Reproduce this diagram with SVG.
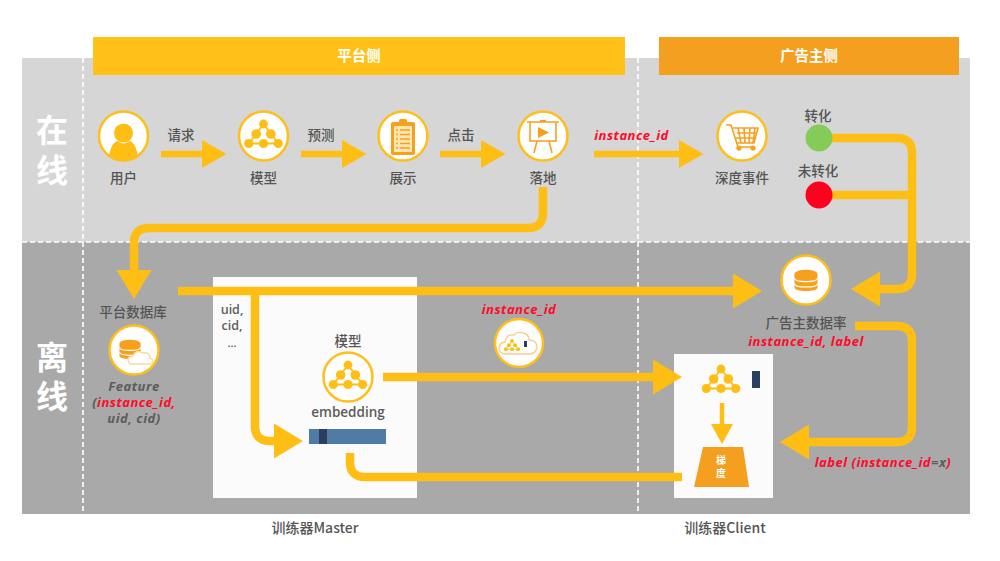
<svg xmlns="http://www.w3.org/2000/svg" xmlns:xlink="http://www.w3.org/1999/xlink" width="1000" height="561" viewBox="0 0 1000 561">
  <style>
    text { font-family: "Noto Sans CJK SC", "Open Sans", sans-serif; text-anchor: middle; }
    .lbl { font-size: 13.5px; font-weight: 500; fill: #555555; }
    .latin { font-family: "Open Sans", "Noto Sans CJK SC", sans-serif; }
    .ital { font-family: "Open Sans", "Noto Sans CJK SC", sans-serif; font-size: 13px; letter-spacing: 0.5px; font-style: italic; font-weight: 700; fill: #5c5c5c; }
    .red { fill: #ff0a2a; }
    .head { font-size: 14.5px; font-weight: 700; fill: #ffffff; }
    .side { font-family: "Liberation Sans", "Noto Sans CJK SC", sans-serif; font-size: 32px; font-weight: 700; fill: #ffffff; }
    .ring { fill: #ffffff; stroke: #ffbe1a; stroke-width: 2.5; }
    .flow { fill: none; stroke: #ffbe14; stroke-linejoin: round; }
    .thin { stroke-width: 6.5; }
    .thick { stroke-width: 8.5; }
    .dash { stroke: #ffffff; stroke-width: 1.6; stroke-dasharray: 5 3; fill: none; }
    .icol { fill: none; stroke: #f7a01d; stroke-width: 1.6; }
  </style>
  <defs>
    <marker id="headS" markerUnits="userSpaceOnUse" markerWidth="26" markerHeight="30" refX="0" refY="14" orient="auto">
      <polygon points="0,0 24.5,14 0,28" fill="#ffbe14"/>
    </marker>
    <marker id="headL" markerUnits="userSpaceOnUse" markerWidth="32" markerHeight="36" refX="0" refY="17.5" orient="auto">
      <polygon points="0,0 29,17.5 0,35" fill="#ffbe14"/>
    </marker>
    <marker id="headC" markerUnits="userSpaceOnUse" markerWidth="24" markerHeight="24" refX="0" refY="11" orient="auto">
      <polygon points="0,0 20,11 0,22" fill="#ffbe14"/>
    </marker>
    <!-- network of nodes used for the model -->
    <g id="net">
      <path d="M0,-12 L-14.7,7.5 H14.7 Z" fill="none" stroke="#ffbe14" stroke-width="1.8"/>
      <g fill="#ffbe14">
        <circle cx="0" cy="-12" r="4.4"/>
        <circle cx="-7.3" cy="-2" r="4.8"/>
        <circle cx="7.3" cy="-2" r="4.8"/>
        <circle cx="-14.7" cy="7.5" r="4.6"/>
        <circle cx="0" cy="7.5" r="4.6"/>
        <circle cx="14.7" cy="7.5" r="4.6"/>
      </g>
      <ellipse cx="0" cy="-2.5" rx="2.2" ry="4.5" fill="#ffffff"/>
      <path d="M-5,3 Q0,0 5,3" fill="none" stroke="#ffffff" stroke-width="1.2"/>
    </g>
    <!-- stacked database cylinder -->
    <g id="db">
      <path d="M-17,-9 V11 C-17,18 17,18 17,11 V-9 Z" fill="#f7a01d"/>
      <ellipse cx="0" cy="-9" rx="17" ry="6" fill="#f7a01d"/>
      <path d="M-17,-3 C-17,4 17,4 17,-3 M-17,5 C-17,12 17,12 17,5" fill="none" stroke="#ffffff" stroke-width="1.8"/>
    </g>
  </defs>

  <g id="bands">
    <rect x="22" y="58" width="948" height="184" fill="#d6d6d6"/>
    <rect x="22" y="242" width="948" height="272" fill="#a9a9a9"/>
    <path class="dash" d="M22,242 H970"/>
    <path class="dash" d="M83,58 V514"/>
    <path class="dash" d="M638,58 V514"/>
    <text class="side" x="52" y="142">在</text>
    <text class="side" x="52" y="182">线</text>
    <text class="side" x="52" y="369">离</text>
    <text class="side" x="52" y="408">线</text>
  </g>

  <g id="header-platform">
    <rect x="93" y="37" width="532" height="38" fill="#ffc017"/>
    <text class="head" x="359" y="61">平台侧</text>
  </g>
  <g id="header-advertiser">
    <rect x="659" y="37" width="300" height="38" fill="#f59f20"/>
    <text class="head" x="809" y="61">广告主侧</text>
  </g>

  <g id="master-panel">
    <rect x="213" y="277" width="204" height="221" fill="#fbfbfb"/>
    <text class="latin" x="232" y="314" font-size="12.5" font-weight="600" fill="#5c5c5c">uid,</text>
    <text class="latin" x="232" y="330" font-size="12.5" font-weight="600" fill="#5c5c5c">cid,</text>
    <text class="latin" x="232" y="347" font-size="11" font-weight="600" fill="#5c5c5c">...</text>
  </g>
  <g id="client-panel">
    <rect x="674" y="354" width="99" height="144" fill="#fbfbfb"/>
  </g>

  <g id="connectors">
    <path class="flow thin" d="M161,154 H202" marker-end="url(#headS)"/>
    <path class="flow thin" d="M301,154 H342" marker-end="url(#headS)"/>
    <path class="flow thin" d="M440,154 H481" marker-end="url(#headS)"/>
    <path class="flow thin" d="M594,154 H679" marker-end="url(#headS)"/>
    <path class="flow thick" d="M543,187 V213 Q543,228 528,228 H149 Q134,228 134,243 V270" marker-end="url(#headL)"/>
    <path class="flow thick" d="M178,291 H733" marker-end="url(#headL)"/>
    <path class="flow thick" d="M255,291 V426 Q255,441 270,441 H274" marker-end="url(#headL)"/>
    <path class="flow thick" d="M832,138 H897 Q912,138 912,153 V274 Q912,289 897,289 H880" marker-end="url(#headL)"/>
    <path class="flow thick" d="M832,195 H912"/>
    <path class="flow thick" d="M855,326 H897 Q912,326 912,341 V427 Q912,442 897,442 H809" marker-end="url(#headL)"/>
    <path class="flow thick" d="M383,377 H653" marker-end="url(#headL)"/>
    <path class="flow thick" d="M350,453 V462 Q350,477 365,477 H682"/>
    <path class="flow" stroke-width="4.5" d="M722,403 V424" marker-end="url(#headC)"/>
  </g>

  <g id="node-user">
    <circle class="ring" cx="123.5" cy="136" r="24.5"/>
    <circle cx="123.5" cy="133" r="9.5" fill="#ffbe14"/>
    <path d="M109.4,156 C110,148 113,142 118,141 Q123.5,146 129,141 C134,142 137,148 137.6,156 A24.5,24.5 0 0 1 109.4,156 Z" fill="#ffbe14"/>
    <text class="lbl" x="123.5" y="183">用户</text>
  </g>
  <g id="action-request"><text class="lbl" x="181" y="140">请求</text></g>
  <g id="node-model">
    <circle class="ring" cx="263.5" cy="136" r="24.5"/>
    <use xlink:href="#net" href="#net" x="263.5" y="136"/>
    <text class="lbl" x="263.5" y="183">模型</text>
  </g>
  <g id="action-predict"><text class="lbl" x="321" y="140">预测</text></g>
  <g id="node-display">
    <circle class="ring" cx="403" cy="136" r="24.5"/>
    <rect x="391" y="122" width="24" height="33" rx="2" fill="#f7a01d"/>
    <rect x="394" y="126" width="18" height="26" fill="#ffe6b0"/>
    <rect x="399" y="119" width="8" height="5" rx="1.5" fill="#f7a01d"/>
    <path d="M396,130 h2 M400,130 h10 M396,134.5 h2 M400,134.5 h10 M396,139 h2 M400,139 h10 M396,143.5 h2 M400,143.5 h10 M396,148 h2 M400,148 h10" stroke="#f7a01d" stroke-width="1.5" fill="none"/>
    <text class="lbl" x="403" y="183">展示</text>
  </g>
  <g id="action-click"><text class="lbl" x="461" y="140">点击</text></g>
  <g id="node-landing">
    <circle class="ring" cx="543" cy="136" r="24.5"/>
    <path class="icol" d="M527,122 H559 M530,122 V141 H556 V122 M537,141 L534,153 M549,141 L552,153"/>
    <rect x="540" y="120" width="6" height="2" fill="#f7a01d"/>
    <polygon points="538,127 549,132.5 538,138" fill="#f7a01d"/>
    <text class="lbl" x="543" y="183">落地</text>
  </g>
  <g id="label-online-id">
    <text class="ital red" x="631.5" y="140">instance_id</text>
  </g>
  <g id="node-deep-event">
    <circle class="ring" cx="742" cy="136" r="24.5"/>
    <path class="icol" d="M726,125 H731 L738,147 H753 M733,128 H758 L754,143 H737 M737,133 H757 M735,138 H755 M738,128 L741,143 M744,128 L745,143 M750,128 L749,143 M755,128 L753,143"/>
    <circle cx="739" cy="148" r="2.6" fill="#f7a01d"/>
    <circle cx="753" cy="148" r="2.6" fill="#f7a01d"/>
    <text class="lbl" x="742" y="183">深度事件</text>
  </g>
  <g id="node-converted">
    <text class="lbl" x="818" y="121">转化</text>
    <circle cx="819" cy="138" r="13.5" fill="#84cb57"/>
  </g>
  <g id="node-unconverted">
    <text class="lbl" x="818" y="176">未转化</text>
    <circle cx="819" cy="195" r="13.5" fill="#ff001f"/>
  </g>

  <g id="node-platform-db">
    <text class="lbl" x="133" y="317">平台数据库</text>
    <circle class="ring" cx="134" cy="350" r="24.5"/>
    <use xlink:href="#db" href="#db" transform="translate(130,349) scale(0.62)"/>
    <path d="M130,364 q-5,-7 3,-8 q3,-7 10,-3 q7,-1 7,5 q4,1 2,6 Z" fill="#ffffff" stroke="#fbd9a0" stroke-width="1.5"/>
    <text class="ital" x="134" y="391">Feature</text>
    <text class="ital" x="134" y="407">(<tspan class="red">instance_id,</tspan></text>
    <text class="ital" x="134" y="423">uid, cid)</text>
  </g>

  <g id="node-master-model">
    <text class="lbl" x="348" y="346">模型</text>
    <circle class="ring" cx="348" cy="377" r="24.5"/>
    <use xlink:href="#net" href="#net" x="348" y="377"/>
    <text class="latin" x="348" y="417" font-size="13.5" font-weight="600" fill="#5c5c5c">embedding</text>
  </g>
  <g id="node-embedding">
    <rect x="309" y="429" width="77" height="15" fill="#4f7ba5"/>
    <rect x="319" y="429" width="8" height="15" fill="#2a405f"/>
  </g>
  <g id="node-transfer">
    <text class="ital red" x="519" y="314">instance_id</text>
    <circle class="ring" cx="519" cy="343" r="24"/>
    <path d="M505,354 q-6,-1 -6,-6 q0,-5 6,-6 q1,-8 9,-7 q3,-4 9,-2 q6,1 6,7 q7,0 8,6 q0,7 -7,8 Z" fill="#ffffff" stroke="#fbc98a" stroke-width="1.3"/>
    <use xlink:href="#net" href="#net" transform="translate(512,346) scale(0.42)"/>
    <rect x="524" y="341" width="3" height="6" fill="#2a405f"/>
  </g>
  <g id="node-advertiser-db">
    <circle class="ring" cx="806" cy="280" r="24.5"/>
    <use xlink:href="#db" href="#db" transform="translate(806,280) scale(0.68)"/>
    <text class="lbl" x="806" y="328">广告主数据率</text>
    <text class="ital red" x="806" y="346">instance_id, label</text>
  </g>
  <g id="node-client-model">
    <use xlink:href="#net" href="#net" x="721" y="381"/>
    <rect x="752" y="371" width="8" height="17" fill="#2a405f"/>
  </g>
  <g id="node-gradient">
    <polygon points="703,447 743,447 749,487 694,487" fill="#f59f20"/>
    <text x="721" y="464" font-size="10" font-weight="700" fill="#ffffff">梯</text>
    <text x="721" y="477" font-size="10" font-weight="700" fill="#ffffff">度</text>
  </g>
  <g id="label-feedback">
    <text class="ital" x="883" y="467"><tspan class="red">label (instance_id</tspan>=x<tspan class="red">)</tspan></text>
  </g>
  <g id="captions">
    <text class="lbl" x="315" y="533" style="font-size:14px">训练器Master</text>
    <text class="lbl" x="725" y="533" style="font-size:14px">训练器Client</text>
  </g>
</svg>
